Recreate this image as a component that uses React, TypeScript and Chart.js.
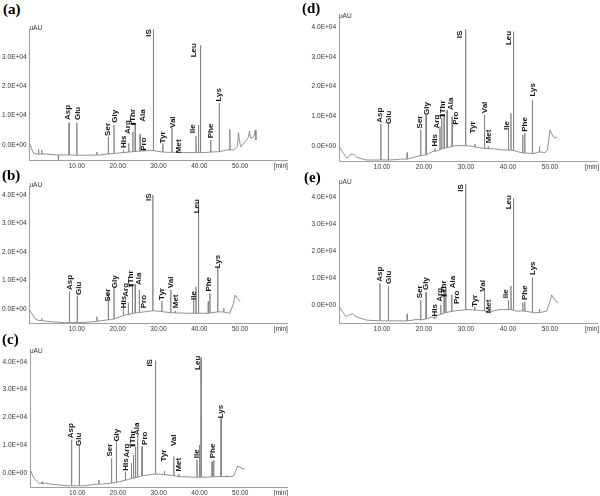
import React, { useEffect, useRef } from "react";
import { Chart, registerables } from "chart.js";

Chart.register(...registerables);

// ---------- shared data ----------
const peakNames = ["Asp", "Glu", "Ser", "Gly", "His", "Arg", "Thr", "Ala", "Pro", "IS", "Tyr", "Val", "Met", "Ile", "Leu", "Phe", "Lys"];
const xTickValues = [10, 20, 30, 40, 50, 60];
const yTickValues = [0, 10000, 20000, 30000, 40000];
const unitLabel = "uAU";
const timeUnitLabel = "[min]";

type Pt = [number, number];
type Peak = [number, number, number]; // retention time, apex, local baseline

// ---------- panel (a) ----------
const aBaseline: Pt[] = [[-1.6, 570], [-0.7, -2600], [0.2, -3100], [2.6, -3100], [5.1, -3400], [7.5, -3400], [11.6, -3500], [15.7, -3400], [20.4, -2700], [27.9, -1900], [32.0, -2500], [36.1, -2600], [41.2, -2600], [44.3, -2300], [46.7, -1700], [48.5, -1700], [49.3, -500], [49.6, 4200], [49.9, 1000], [50.2, -600], [51.2, 1100], [52.0, 2500], [52.3, 4800], [52.6, 2300], [53.2, 2600], [53.5, 3500], [53.7, 5100], [53.9, 1700]];
const aPeaks: Peak[] = [[0.6, -1500, -3100], [1.4, -1700, -3100], [5.5, -5700, -3400], [8.1, 7600, -3400], [10.0, 7600, -3500], [14.9, -2400, -3400], [17.7, 2800, -3000], [19.1, 6800, -2900], [21.4, -1700, -2600], [22.7, 600, -2400], [23.7, 4500, -2300], [24.3, 7400, -2200], [25.5, 3700, -2100], [26.5, -1200, -2000], [28.75, 39400, -1900], [31.05, 560, -2400], [33.3, 5900, -2500], [34.5, -1800, -2500], [39.2, 3000, -2600], [39.8, 6800, -2600], [40.3, 34000, -2600], [42.8, 1700, -2400], [44.9, 14200, -2300], [47.5, 5300, -1700]];
const aLabelTimes = [7.9, 10.2, 17.5, 19.2, 21.4, 22.5, 23.8, 26.2, 26.5, 27.7, 31.0, 33.4, 34.9, 38.3, 38.6, 42.8, 44.9];
const aLabelValues = [8500, 8500, 3100, 7600, -1000, 3750, 7900, 7900, -1950, 36900, 600, 5800, -2800, 4000, 29900, 2300, 14800];

// ---------- panel (b) ----------
const bBaseline: Pt[] = [[-1.6, -350], [-0.3, -3300], [0.6, -4000], [3.4, -4400], [7.0, -4800], [12.0, -4700], [16.0, -4100], [18.4, -3700], [20.5, -2800], [22.0, -2000], [24.8, -1300], [27.1, -900], [29.5, -700], [31.8, -1100], [35.5, -1400], [37.5, -1500], [41.0, -1500], [43.6, -1200], [45.5, -1000], [47.5, -1500], [48.4, 2000], [48.8, 4900], [49.4, 3700], [50.0, 2600]];
const bPeaks: Peak[] = [[1.4, -3300, -4100], [8.16, 6100, -4800], [10.1, 4700, -4700], [14.9, -2700, -4300], [17.7, 6100, -3800], [19.1, 7300, -3500], [21.4, 200, -2300], [22.6, 2200, -1900], [23.6, 8800, -1600], [24.3, 8800, -1400], [25.3, 6700, -1200], [28.6, 40000, -600], [30.8, 2800, -900], [33.0, 6700, -1300], [34.1, -700, -1400], [38.6, 3750, -1500], [39.2, 7800, -1500], [39.8, 38000, -1500], [42.2, 2600, -1500], [42.6, 5500, -1400], [44.5, 14500, -1000], [46.0, 250, -1100]];
const bLabelTimes = [8.2, 10.5, 17.5, 19.4, 21.4, 22.0, 23.3, 25.2, 26.5, 27.7, 30.8, 33.1, 34.2, 38.6, 39.4, 42.4, 44.5];
const bLabelValues = [6700, 4900, 2600, 7300, 250, 4300, 9000, 8400, 250, 37900, 3200, 7300, 250, 3200, 33600, 6100, 14300];

// ---------- panel (c) ----------
const cBaseline: Pt[] = [[-1.5, 1000], [-0.6, -2000], [0.6, -3700], [2.2, -3600], [3.4, -4000], [7.5, -4600], [12.0, -4600], [14.6, -4000], [16.0, -4000], [18.0, -3700], [20.4, -3100], [22.6, -2300], [26.5, -900], [28.5, -450], [30.4, -400], [32.2, -700], [35.5, -1300], [38.5, -1500], [41.5, -1500], [44.3, -1300], [47.6, -1300], [48.4, -1100], [49.4, 2500], [50.4, 1700], [51.2, 1300]];
const cPeaks: Peak[] = [[1.4, -3100, -3800], [8.6, 11900, -4600], [10.5, 9700, -4600], [15.3, -2500, -4000], [18.4, 5300, -3600], [19.6, 11300, -3400], [21.8, 500, -2600], [23.3, 3500, -2000], [23.8, 6500, -1900], [24.3, 9500, -1700], [24.8, 13700, -1500], [25.9, 9500, -1000], [29.2, 40400, -400], [31.4, 700, -600], [33.7, 5900, -1000], [34.9, -360, -1300], [39.4, 4700, -1500], [40.0, 10100, -1500], [40.4, 41600, -1500], [43.1, 4100, -1400], [43.5, 4700, -1400], [45.3, 19700, -1300], [46.7, -800, -1300]];
const cLabelTimes = [8.3, 10.5, 18.1, 19.8, 21.8, 22.2, 23.6, 24.7, 26.5, 27.9, 31.2, 33.7, 35.0, 39.4, 39.5, 43.2, 45.3];
const cLabelValues = [12500, 9700, 5900, 11300, 800, 5600, 10700, 13700, 10100, 38300, 4100, 9700, 500, 5300, 37100, 5300, 19700];

// ---------- panel (d) ----------
const dBaseline: Pt[] = [[-0.2, -200], [1.6, -4100], [2.4, -3000], [3.2, -2700], [4.0, -3800], [6.3, -4700], [13.0, -4600], [14.3, -4400], [17.5, -3800], [19.85, -3100], [22.0, -1900], [27.6, 100], [28.6, 100], [31.0, 0], [33.0, -500], [36.5, -900], [38.5, -1300], [42.5, -2000], [44.8, -2400], [46.8, -2300], [48.8, -2200], [49.4, -1500], [50.0, 5400], [50.8, 3100], [51.2, 2700], [51.7, 3100]];
const dPeaks: Peak[] = [[9.7, 7400, -4700], [11.5, 7400, -4700], [16.0, -2200, -4400], [19.2, 5400, -3200], [20.5, 10400, -3000], [22.6, -800, -1800], [23.8, 6500, -1300], [24.2, 9300, -1000], [24.8, 10400, -800], [25.5, 12100, -500], [26.7, 9800, -100], [29.9, 39200, 100], [32.1, 670, -300], [34.4, 10400, -800], [35.3, -200, -900], [40.1, 5400, -1400], [40.7, 11000, -1400], [41.3, 38400, -1500], [43.5, 3700, -2300], [44.0, 4300, -2400], [45.8, 15500, -2500], [47.5, -200, -2000]];
const dLabelTimes = [9.5, 11.5, 19.0, 20.6, 22.6, 23.0, 24.4, 26.4, 27.6, 28.6, 31.7, 34.4, 35.5, 39.7, 40.3, 43.9, 45.8];
const dLabelValues = [7800, 7400, 5900, 10400, -200, 5900, 11000, 12100, 7100, 36200, 4300, 11000, 900, 5400, 33900, 4800, 16600];

// ---------- panel (e) ----------
const eBaseline: Pt[] = [[-0.2, -450], [1.4, -4100], [2.2, -3500], [3.0, -3100], [3.8, -4100], [6.3, -5400], [10.5, -5700], [14.3, -5700], [17.0, -5500], [18.3, -5100], [21.8, -4300], [23.4, -3500], [27.8, -1900], [30.5, -1500], [33.2, -1800], [34.9, -2100], [38.1, -1500], [42.1, -2100], [46.3, -2700], [49.2, -2100], [50.0, 1500], [50.4, 3900], [51.2, 1900], [52.0, 1000]];
const ePeaks: Peak[] = [[9.5, 8200, -5700], [11.5, 7200, -5700], [16.0, -3100, -5700], [19.2, 2000, -5300], [20.5, 4900, -5000], [22.6, -4100, -4800], [24.0, 200, -3300], [24.8, 5700, -2800], [25.2, 7000, -2600], [26.6, 3900, -2200], [29.9, 45000, -1600], [32.1, -450, -1700], [34.4, 5700, -2000], [35.5, -2000, -2300], [40.1, 2000, -1500], [40.7, 7200, -1600], [41.3, 39700, -1700], [43.5, 1000, -2000], [44.0, 1400, -2100], [45.8, 10400, -2500], [47.5, -1400, -2600]];
const eLabelTimes = [9.4, 11.5, 19.0, 20.5, 22.6, 23.7, 24.8, 26.8, 27.8, 28.7, 32.1, 34.1, 35.5, 39.5, 40.1, 43.9, 45.8];
const eLabelValues = [8800, 8000, 2700, 5700, -4100, 1400, 4500, 6400, 550, 42100, -450, 5100, -2900, 2700, 35600, 2000, 11300];

// ---------- layout / style (kept apart from the data) ----------
const PEAK_HALF_WIDTH = 0.06;
const TRACE_COLOR = "#858585";
const AXIS_COLOR = "#a0a0a0";
const TICK_COLOR = "#333";
const LABEL_COLOR = "#151515";
const SANS = "'Liberation Sans', Arial, sans-serif";

type PanelCfg = {
  tag: string; tagX: number; tagY: number;
  cx: number; cy: number; cw: number; ch: number;
  padTop: number; padRight: number; yW: number; xH: number;
  xMin: number; xMax: number; yMin: number; yMax: number;
  baseline: Pt[]; peaks: Peak[]; labelTimes: number[]; labelValues: number[];
};

const panels: PanelCfg[] = [
  { tag: "(a)", tagX: 3, tagY: 0, cx: 0, cy: 18, cw: 300, ch: 155, padTop: 11, padRight: 13, yW: 29.5, xH: 13,
    xMin: -1.6, xMax: 61.5, yMin: -5115, yMax: 39556, baseline: aBaseline, peaks: aPeaks, labelTimes: aLabelTimes, labelValues: aLabelValues },
  { tag: "(b)", tagX: 2, tagY: 166, cx: 0, cy: 176, cw: 300, ch: 157, padTop: 10, padRight: 13, yW: 29.5, xH: 10,
    xMin: -1.6, xMax: 61.5, yMin: -4914, yMax: 43173, baseline: bBaseline, peaks: bPeaks, labelTimes: bLabelTimes, labelValues: bLabelValues },
  { tag: "(c)", tagX: 2, tagY: 330, cx: 0, cy: 342, cw: 300, ch: 154, padTop: 10, padRight: 13, yW: 30, xH: 9,
    xMin: -1.6, xMax: 61.5, yMin: -5040, yMax: 43560, baseline: cBaseline, peaks: cPeaks, labelTimes: cLabelTimes, labelValues: cLabelValues },
  { tag: "(d)", tagX: 302, tagY: -1, cx: 300, cy: 5, cw: 300, ch: 168, padTop: 12, padRight: 3, yW: 39, xH: 12,
    xMin: -0.24, xMax: 61.2, yMin: -5040, yMax: 43344, baseline: dBaseline, peaks: dPeaks, labelTimes: dLabelTimes, labelValues: dLabelValues },
  { tag: "(e)", tagX: 304, tagY: 168, cx: 300, cy: 173, cw: 300, ch: 160, padTop: 10, padRight: 3, yW: 39, xH: 10,
    xMin: -0.24, xMax: 61.2, yMin: -6475, yMax: 45325, baseline: eBaseline, peaks: ePeaks, labelTimes: eLabelTimes, labelValues: eLabelValues },
];

function buildTrace(baseline: Pt[], peaks: Peak[]) {
  const pts = baseline.map(([x, y]) => ({ x, y }));
  for (const [t, apex, base] of peaks) {
    pts.push({ x: t - PEAK_HALF_WIDTH, y: base }, { x: t, y: apex }, { x: t + PEAK_HALF_WIDTH, y: base });
  }
  pts.sort((p, q) => p.x - q.x);
  return pts;
}

function formatY(v: number) {
  if (v === 0) return "0.0E+00";
  return (v / 10000).toFixed(1) + "E+04";
}

function Panel({ cfg }: { cfg: PanelCfg }) {
  const ref = useRef<HTMLCanvasElement>(null);
  useEffect(() => {
    const labelPlugin = {
      id: "peakLabels",
      afterDatasetsDraw(chart: any) {
        const { ctx, chartArea } = chart;
        const xs = chart.scales.x;
        const ys = chart.scales.y;
        ctx.save();
        ctx.fillStyle = TICK_COLOR;
        ctx.font = `6.5px ${SANS}`;
        ctx.textAlign = "left";
        ctx.textBaseline = "middle";
        ctx.fillText(unitLabel, chartArea.left, chartArea.top - 1);
        ctx.fillStyle = LABEL_COLOR;
        ctx.font = `bold 8px ${SANS}`;
        peakNames.forEach((name, i) => {
          const px = xs.getPixelForValue(cfg.labelTimes[i]);
          const py = ys.getPixelForValue(cfg.labelValues[i]);
          ctx.save();
          ctx.translate(px, py);
          ctx.rotate(-Math.PI / 2);
          ctx.textAlign = "left";
          ctx.textBaseline = "middle";
          ctx.fillText(name, 0, 0);
          ctx.restore();
          if (name === "Thr") ctx.fillRect(px - 2.5, py + 1, 5, 2);
        });
        ctx.restore();
      },
    };
    const chart = new Chart(ref.current!, {
      type: "line",
      data: {
        datasets: [{
          data: buildTrace(cfg.baseline, cfg.peaks),
          borderColor: TRACE_COLOR,
          borderWidth: 0.9,
          pointRadius: 0,
          tension: 0,
          fill: false,
        }],
      },
      options: {
        responsive: false,
        animation: false,
        devicePixelRatio: 1,
        layout: { padding: { left: 0, top: cfg.padTop, right: cfg.padRight, bottom: 0 } },
        plugins: { legend: { display: false }, tooltip: { enabled: false } },
        scales: {
          x: {
            type: "linear",
            min: cfg.xMin,
            max: cfg.xMax,
            grid: { display: false, drawTicks: false, tickLength: 0 },
            border: { display: true, color: AXIS_COLOR, width: 1 },
            ticks: {
              padding: 2,
              color: TICK_COLOR,
              font: { family: SANS, size: 6.5 },
              maxRotation: 0,
              autoSkip: false,
              callback: (v: any) => (Number(v) === 60 ? timeUnitLabel : Number(v).toFixed(2)),
            },
            afterBuildTicks: (s: any) => {
              s.ticks = xTickValues.filter((v) => v <= s.max).map((value) => ({ value }));
            },
            afterFit: (s: any) => {
              s.height = cfg.xH;
              s.paddingLeft = 0;
              s.paddingRight = 0;
            },
          },
          y: {
            type: "linear",
            min: cfg.yMin,
            max: cfg.yMax,
            grid: { display: false, drawTicks: false, tickLength: 0 },
            border: { display: true, color: AXIS_COLOR, width: 1 },
            ticks: {
              padding: 3,
              color: TICK_COLOR,
              font: { family: SANS, size: 6.5 },
              autoSkip: false,
              callback: (v: any) => formatY(Number(v)),
            },
            afterBuildTicks: (s: any) => {
              s.ticks = yTickValues.filter((v) => v <= s.max).map((value) => ({ value }));
            },
            afterFit: (s: any) => {
              s.width = cfg.yW;
              s.paddingTop = 0;
              s.paddingBottom = 0;
            },
          },
        },
      } as any,
      plugins: [labelPlugin],
    });
    return () => chart.destroy();
  }, []);
  return (
    <>
      <canvas
        ref={ref}
        width={cfg.cw}
        height={cfg.ch}
        style={{ position: "absolute", left: cfg.cx, top: cfg.cy, width: cfg.cw, height: cfg.ch }}
      />
      <div
        style={{
          position: "absolute",
          left: cfg.tagX,
          top: cfg.tagY,
          font: "bold 15px 'Liberation Serif', 'Times New Roman', serif",
          lineHeight: "18px",
          color: "#000",
        }}
      >
        {cfg.tag}
      </div>
    </>
  );
}

export default function App() {
  return (
    <div style={{ position: "absolute", left: 0, top: 0, width: 600, height: 496, background: "#fff", overflow: "hidden" }}>
      {panels.map((p) => (
        <Panel key={p.tag} cfg={p} />
      ))}
    </div>
  );
}
